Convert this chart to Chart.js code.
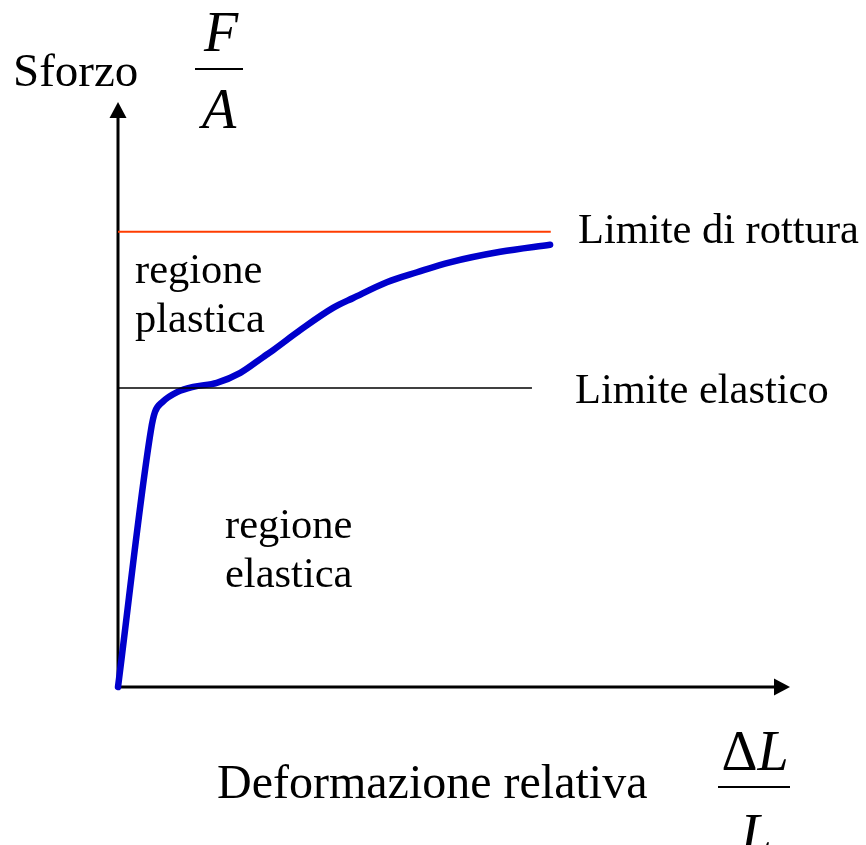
<!DOCTYPE html>
<html>
<head>
<meta charset="utf-8">
<script src="https://cdn.jsdelivr.net/npm/chart.js@4"></script>
<style>
  html, body { margin: 0; padding: 0; background: #fff; }
  canvas { display: block; }
</style>
</head>
<body>
<canvas id="stressChart" width="866" height="845"></canvas>
<script>
// curve: deformazione relativa (x) vs sforzo (y), arbitrary units 0-100
const strain = [0, 4.9, 5.5, 6.6, 8.8, 11.2, 14.7, 18.2, 21.6, 23.1, 27.1, 32.0, 35.0, 40.0, 44.5, 49.4, 56.9, 64.3];
const stress = [0, 43.9, 47.0, 48.7, 50.4, 51.3, 52.0, 53.7, 56.4, 57.6, 61.0, 64.8, 66.5, 69.2, 70.9, 72.6, 74.4, 75.6];

// horizontal limits
const rotturaX = [0, 64.4];
const rotturaY = [77.8, 77.8];
const elasticoX = [0, 61.6];
const elasticoY = [51.1, 51.1];

const labels = {
  sforzo: "Sforzo",
  deformazione: "Deformazione relativa",
  rottura: "Limite di rottura",
  elastico: "Limite elastico",
  plastica: ["regione", "plastica"],
  elastica: ["regione", "elastica"]
};

const serif = "'Liberation Serif', 'Times New Roman', serif";

function toPoints(xs, ys) {
  return xs.map((x, i) => ({ x: x, y: ys[i] }));
}

/* ===============================
   AXES WITH ARROWS + TEXT
=============================== */
const diagramPlugin = {
  id: "diagram",
  beforeDatasetsDraw(chart) {
    const ctx = chart.ctx;
    const xs = chart.scales.x;
    const ys = chart.scales.y;
    const x0 = xs.getPixelForValue(0);
    const y0 = ys.getPixelForValue(0);
    const xEnd = xs.getPixelForValue(100);
    const yEnd = ys.getPixelForValue(100);

    ctx.save();
    ctx.strokeStyle = "#000";
    ctx.fillStyle = "#000";
    ctx.lineWidth = 3;

    // y axis
    ctx.beginPath();
    ctx.moveTo(x0, y0 + 1.5);
    ctx.lineTo(x0, yEnd + 14);
    ctx.stroke();
    ctx.beginPath();
    ctx.moveTo(x0, yEnd);
    ctx.lineTo(x0 - 8.5, yEnd + 16);
    ctx.lineTo(x0 + 8.5, yEnd + 16);
    ctx.closePath();
    ctx.fill();

    // x axis
    ctx.beginPath();
    ctx.moveTo(x0 - 1.5, y0);
    ctx.lineTo(xEnd - 14, y0);
    ctx.stroke();
    ctx.beginPath();
    ctx.moveTo(xEnd, y0);
    ctx.lineTo(xEnd - 16, y0 - 8.5);
    ctx.lineTo(xEnd - 16, y0 + 8.5);
    ctx.closePath();
    ctx.fill();
    ctx.restore();
  },
  afterDraw(chart) {
    const ctx = chart.ctx;
    ctx.save();
    ctx.fillStyle = "#000";
    ctx.textBaseline = "alphabetic";

    // y title
    ctx.font = "47px " + serif;
    ctx.textAlign = "left";
    ctx.fillText(labels.sforzo, 13, 86);

    ctx.font = "italic 56px " + serif;
    ctx.textAlign = "center";
    ctx.fillText("F", 221, 51);
    ctx.fillText("A", 219, 128);
    ctx.fillRect(195, 68, 48, 2);

    // x title
    ctx.font = "48px " + serif;
    ctx.textAlign = "left";
    ctx.fillText(labels.deformazione, 217, 798);

    ctx.font = "56px " + serif;
    const dW = ctx.measureText("\u0394").width;
    ctx.font = "italic 56px " + serif;
    const lW = ctx.measureText("L").width;
    const startX = 755 - (dW + lW) / 2;
    ctx.font = "56px " + serif;
    ctx.fillText("\u0394", startX, 770);
    ctx.font = "italic 56px " + serif;
    ctx.fillText("L", startX + dW, 770);
    ctx.textAlign = "center";
    ctx.fillText("L", 756, 853);
    ctx.fillRect(718, 786, 72, 2);

    // limits
    ctx.font = "42.5px " + serif;
    ctx.textAlign = "left";
    ctx.fillText(labels.rottura, 578, 243);
    ctx.fillText(labels.elastico, 575, 403);

    // regions
    ctx.font = "42.5px " + serif;
    ctx.fillText(labels.plastica[0], 135, 283);
    ctx.fillText(labels.plastica[1], 135, 332);
    ctx.fillText(labels.elastica[0], 225, 538);
    ctx.fillText(labels.elastica[1], 225, 587);
    ctx.restore();
  }
};

const ctx = document.getElementById("stressChart").getContext("2d");

new Chart(ctx, {
  type: "scatter",
  data: {
    datasets: [
      {
        label: "Limite di rottura",
        data: toPoints(rotturaX, rotturaY),
        showLine: true,
        borderColor: "#ff3c00",
        borderWidth: 2,
        pointRadius: 0,
        clip: false
      },
      {
        label: "Limite elastico",
        data: toPoints(elasticoX, elasticoY),
        showLine: true,
        borderColor: "#000",
        borderWidth: 1.5,
        pointRadius: 0,
        clip: false
      },
      {
        label: "Sforzo",
        data: toPoints(strain, stress),
        showLine: true,
        borderColor: "#0000cc",
        borderWidth: 6.5,
        pointRadius: 0,
        cubicInterpolationMode: "monotone",
        borderCapStyle: "round",
        borderJoinStyle: "round",
        clip: false
      }
    ]
  },
  options: {
    responsive: false,
    animation: false,
    layout: {
      padding: { left: 118, right: 76, top: 102, bottom: 158 }
    },
    plugins: {
      legend: { display: false },
      tooltip: { enabled: false }
    },
    scales: {
      x: { type: "linear", min: 0, max: 100, display: false },
      y: { type: "linear", min: 0, max: 100, display: false }
    }
  },
  plugins: [diagramPlugin]
});
</script>
</body>
</html>
